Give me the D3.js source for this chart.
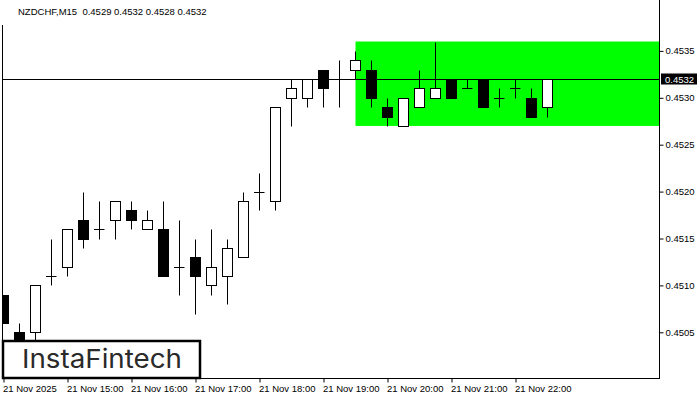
<!DOCTYPE html>
<html>
<head>
<meta charset="utf-8">
<script src="https://cdn.jsdelivr.net/npm/d3@7"></script>
<style>
  html, body { margin: 0; padding: 0; background: #fff; }
  svg { display: block; }
</style>
</head>
<body>
<svg id="chart" width="700" height="400"></svg>
<script>
// ---- data ----
const symbol = "NZDCHF,M15";
const lastOHLC = ["0.4529", "0.4532", "0.4528", "0.4532"];
const openV  = [0.4509,0.4505,0.4505,0.4511,0.4512,0.4517,0.4516,0.4517,0.4518,0.4516,0.4516,0.4512,0.4513,0.4510,0.4511,0.4513,0.4520,0.4519,0.4530,0.4530,0.4533,0.4532,0.4533,0.4533,0.4529,0.4527,0.4529,0.4530,0.4532,0.4531,0.4532,0.4530,0.4531,0.4530,0.4529];
const highV  = [0.4509,0.4506,0.4510,0.4515,0.4516,0.4520,0.4519,0.4519,0.4519,0.4518,0.4519,0.4517,0.4515,0.4516,0.4515,0.4520,0.4522,0.4529,0.4532,0.4532,0.4533,0.4534,0.4535,0.4534,0.4530,0.4530,0.4533,0.4536,0.4532,0.4532,0.4532,0.4531,0.4532,0.4531,0.4532];
const lowV   = [0.4506,0.4502,0.4504,0.4510,0.4511,0.4514,0.4515,0.4515,0.4516,0.4516,0.4511,0.4509,0.4507,0.4509,0.4508,0.4513,0.4518,0.4518,0.4527,0.4529,0.4529,0.4529,0.4532,0.4529,0.4527,0.4527,0.4529,0.4530,0.4530,0.4531,0.4529,0.4529,0.4530,0.4528,0.4528];
const closeV = [0.4506,0.4503,0.4510,0.4511,0.4516,0.4515,0.4516,0.4519,0.4517,0.4517,0.4511,0.4512,0.4511,0.4512,0.4514,0.4519,0.4520,0.4529,0.4531,0.4532,0.4531,0.4532,0.4534,0.4530,0.4528,0.4530,0.4531,0.4531,0.4530,0.4531,0.4529,0.4530,0.4531,0.4528,0.4532];
const timeTickIdx = [0,4,8,12,16,20,24,28,32];
const timeTickLabels = ["21 Nov 2025","21 Nov 15:00","21 Nov 16:00","21 Nov 17:00","21 Nov 18:00","21 Nov 19:00","21 Nov 20:00","21 Nov 21:00","21 Nov 22:00"];
const priceTicks = [0.4505,0.4510,0.4515,0.4520,0.4525,0.4530,0.4535];
const currentPrice = 0.4532;
const zoneStartIdx = 22;
const zoneTop = 0.4536, zoneBottom = 0.4527;

// ---- layout ----
const svg = d3.select("#chart");
const plotL = 2, plotR = 659, plotB = 378, plotT = 0;
const x = d3.scaleLinear().domain([0, 34]).range([3.5, 3.5 + 16*34]);
const y = d3.scaleLinear().domain([0.4505, 0.4535]).range([332.3, 50.9]);
const font = "'Liberation Sans', Arial, sans-serif";

svg.append("clipPath").attr("id","plotclip").append("rect")
  .attr("x", plotL).attr("y", plotT).attr("width", plotR-plotL).attr("height", plotB-plotT);

const plot = svg.append("g").attr("clip-path","url(#plotclip)");

// green zone
plot.append("rect")
  .attr("x", x(zoneStartIdx))
  .attr("y", y(zoneTop))
  .attr("width", plotR - x(zoneStartIdx))
  .attr("height", y(zoneBottom) - y(zoneTop))
  .attr("fill", "#00ff00");

// current price line
const py = Math.round(y(currentPrice)) + 0.5;
plot.append("line").attr("x1", plotL).attr("x2", plotR).attr("y1", py).attr("y2", py)
  .attr("stroke","#000").attr("stroke-width",1);

// candles
const idx = d3.range(openV.length);
const cg = plot.selectAll("g.c").data(idx).join("g").attr("class","c");
const snap = v => Math.round(v) + 0.5;
cg.append("line")
  .attr("x1", i => x(i)).attr("x2", i => x(i))
  .attr("y1", i => snap(y(highV[i]))).attr("y2", i => snap(y(lowV[i])))
  .attr("stroke","#000").attr("stroke-width",1);
cg.each(function(i){
  const g = d3.select(this);
  const o = openV[i], c = closeV[i];
  const top = snap(y(Math.max(o,c))), bot = snap(y(Math.min(o,c)));
  if (Math.abs(o - c) < 1e-9) {
    g.append("line").attr("x1", x(i)-5.5).attr("x2", x(i)+5)
      .attr("y1", top).attr("y2", top).attr("stroke","#000").attr("stroke-width",1);
  } else {
    g.append("rect")
      .attr("x", x(i)-5).attr("y", top)
      .attr("width", 10).attr("height", bot - top)
      .attr("fill", c > o ? "#fff" : "#000")
      .attr("stroke","#000").attr("stroke-width",1);
  }
});

// frame
svg.append("line").attr("x1", plotL+0.5).attr("x2", plotL+0.5).attr("y1", 25).attr("y2", plotB+0.5).attr("stroke","#000");
svg.append("line").attr("x1", plotR+0.5).attr("x2", plotR+0.5).attr("y1", 0).attr("y2", plotB+0.5).attr("stroke","#000");
svg.append("line").attr("x1", plotL).attr("x2", plotR+1).attr("y1", plotB+0.5).attr("y2", plotB+0.5).attr("stroke","#000");

// y axis
const yAxis = d3.axisRight(y).tickValues(priceTicks).tickFormat(d3.format(".4f")).tickSize(4).tickPadding(2);
const yg = svg.append("g").attr("transform", `translate(${plotR+0.5},0)`).call(yAxis);
yg.select(".domain").remove();
yg.selectAll(".tick line").attr("stroke","#000");
yg.selectAll(".tick text").attr("font-family", font).attr("font-size", 9.5).attr("fill","#000");

// current price label
const lblG = svg.append("g");
lblG.append("rect").attr("x", 661).attr("y", py - 6).attr("width", 36).attr("height", 11).attr("fill","#000");
lblG.append("text").attr("x", 665).attr("y", py).attr("dy","0.34em")
  .attr("font-family", font).attr("font-size", 9.5).attr("fill","#fff")
  .text(d3.format(".4f")(currentPrice));

// x axis
const xAxis = d3.axisBottom(x).tickValues(timeTickIdx)
  .tickFormat((d,k) => timeTickLabels[k]).tickSize(4).tickPadding(3);
const xg = svg.append("g").attr("transform", `translate(0,${plotB+0.5})`).call(xAxis);
xg.select(".domain").remove();
xg.selectAll(".tick line").attr("stroke","#000");
xg.selectAll(".tick text").attr("font-family", font).attr("font-size", 9.5).attr("fill","#000")
  .attr("text-anchor","start").attr("x", -1);

// title
svg.append("text").attr("x", 18).attr("y", 15)
  .attr("font-family", font).attr("font-size", 9.5).attr("fill","#000")
  .attr("xml:space","preserve")
  .text(symbol + "  " + lastOHLC.join(" "));

// logo
svg.append("rect").attr("x", 3).attr("y", 341).attr("width", 197).attr("height", 37)
  .attr("fill","#fff").attr("stroke","#000").attr("stroke-width", 2.5);
const logo = svg.append("text").attr("x", 22).attr("y", 368)
  .attr("font-family", "Inter, 'Open Sans', sans-serif").attr("font-size", 26)
  .attr("font-weight", 400)
  .attr("fill","#2a2a2a").text("InstaFintech");
const w = logo.node().getComputedTextLength();
if (w > 0) logo.attr("textLength", 160).attr("lengthAdjust","spacingAndGlyphs");
</script>
</body>
</html>
